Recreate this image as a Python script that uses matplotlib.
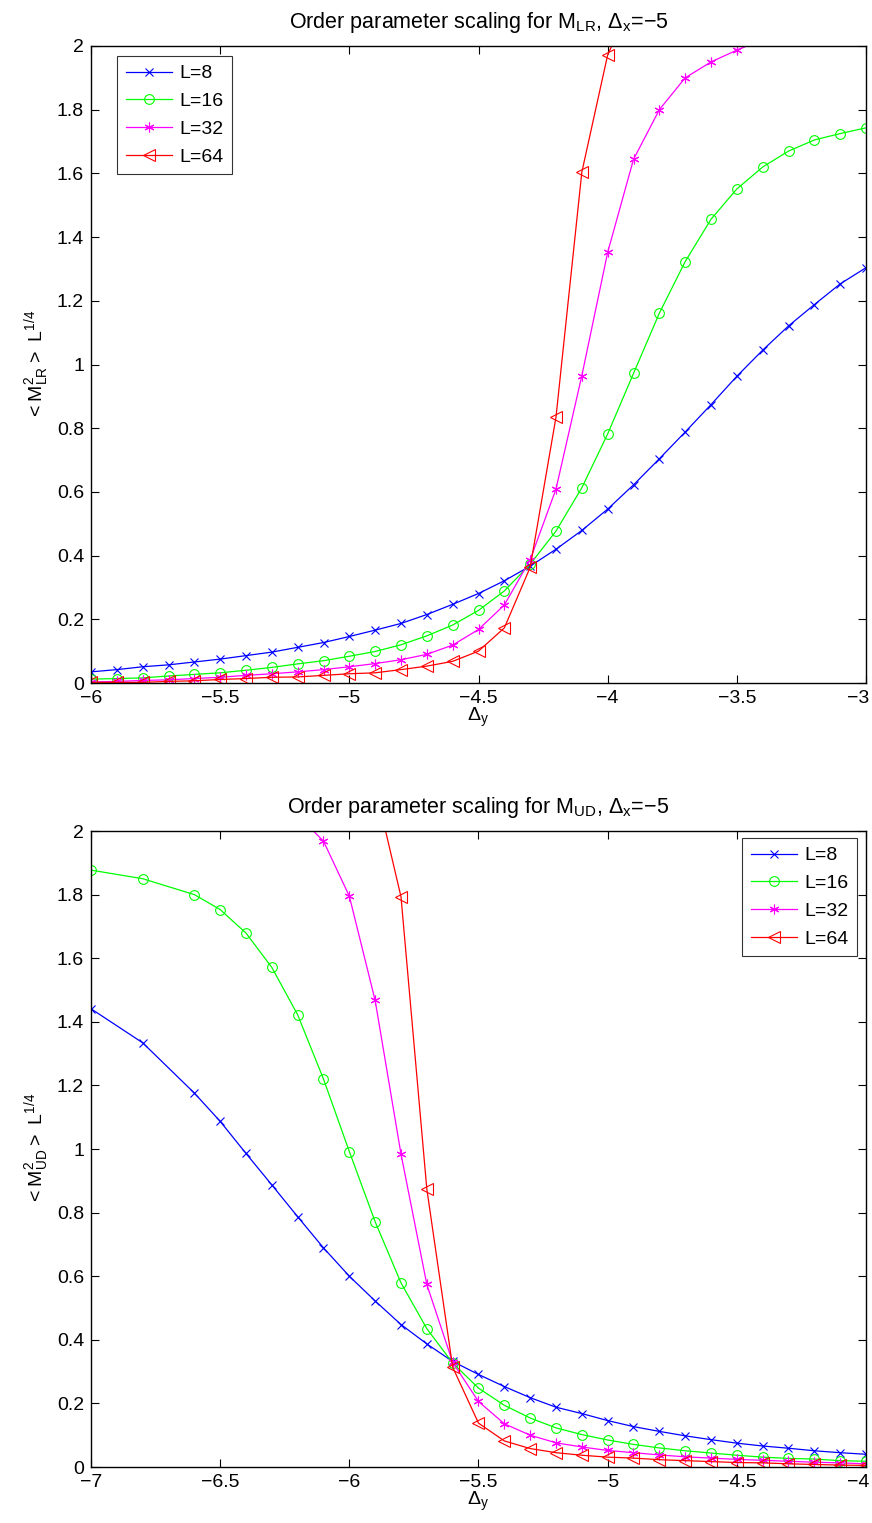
import numpy as np
import matplotlib
matplotlib.use("Agg")
import matplotlib.pyplot as plt
from matplotlib.transforms import ScaledTranslation

plt.rcParams['font.family'] = ['Liberation Sans', 'DejaVu Sans']
plt.rcParams['mathtext.default'] = 'regular'

# ---------------- top panel data (M_LR) ----------------
top_x = [round(-6.0 + 0.1 * i, 1) for i in range(31)]
top_L8 = [0.035, 0.042, 0.051, 0.057, 0.066, 0.075, 0.086, 0.097, 0.112, 0.127,
          0.146, 0.166, 0.187, 0.215, 0.247, 0.281, 0.321, 0.367, 0.420, 0.479,
          0.546, 0.622, 0.704, 0.788, 0.874, 0.963, 1.045, 1.121, 1.188, 1.253, 1.304]
top_L16 = [0.012, 0.014, 0.016, 0.022, 0.027, 0.032, 0.040, 0.049, 0.060, 0.070,
           0.084, 0.099, 0.120, 0.148, 0.182, 0.228, 0.289, 0.373, 0.477, 0.613,
           0.782, 0.972, 1.161, 1.323, 1.456, 1.551, 1.620, 1.670, 1.705, 1.725, 1.743]
top_x32 = top_x[:27]
top_L32 = [0.003, 0.005, 0.008, 0.010, 0.014, 0.018, 0.024, 0.029, 0.035, 0.042,
           0.051, 0.061, 0.073, 0.090, 0.119, 0.168, 0.245, 0.387, 0.609, 0.965,
           1.352, 1.644, 1.800, 1.900, 1.950, 1.987, 2.020]
top_x64 = top_x[:22]
top_L64 = [0.002, 0.002, 0.002, 0.005, 0.007, 0.011, 0.014, 0.018, 0.019, 0.024,
           0.029, 0.032, 0.042, 0.053, 0.068, 0.100, 0.173, 0.363, 0.835, 1.604,
           1.972, 2.150]

# ---------------- bottom panel data (M_UD) ----------------
bot_x = [-7.0, -6.8, -6.6] + [round(-6.5 + 0.1 * i, 1) for i in range(26)]
bot_L8 = [1.441, 1.334, 1.176, 1.087, 0.986, 0.887, 0.787, 0.689, 0.600, 0.522,
          0.448, 0.387, 0.332, 0.291, 0.253, 0.218, 0.188, 0.168, 0.146, 0.127,
          0.112, 0.098, 0.086, 0.075, 0.066, 0.059, 0.051, 0.045, 0.040]
bot_L16 = [1.877, 1.850, 1.800, 1.753, 1.679, 1.571, 1.422, 1.220, 0.992, 0.771,
           0.579, 0.435, 0.327, 0.248, 0.194, 0.154, 0.123, 0.102, 0.085, 0.071,
           0.060, 0.051, 0.044, 0.037, 0.031, 0.027, 0.025, 0.020, 0.018]
bot_x32 = bot_x[6:]
bot_L32 = [2.050, 1.968, 1.795, 1.467, 0.984, 0.574, 0.329, 0.206, 0.136, 0.100,
           0.076, 0.063, 0.052, 0.045, 0.038, 0.032, 0.028, 0.024, 0.021, 0.018,
           0.015, 0.013, 0.010]
bot_x64 = bot_x[9:]
bot_L64 = [2.140, 1.793, 0.874, 0.314, 0.138, 0.082, 0.058, 0.045, 0.037, 0.031,
           0.028, 0.023, 0.020, 0.017, 0.014, 0.013, 0.010, 0.008, 0.006, 0.005]

labels = ['L=8', 'L=16', 'L=32', 'L=64']
colors = ['#0000ff', '#00ff00', '#ff00ff', '#ff0000']
markers = ['x', 'o', (6, 2, 0), '<']
msizes = [6, 7, 7, 8]

FS = 14
W, H = 872, 1523
fig = plt.figure(figsize=(W / 100, H / 100), dpi=100)

def style_axes(ax, xlim, xticks, ylabel, title):
    ax.set_xlim(*xlim)
    ax.set_ylim(0, 2)
    ax.set_xticks(xticks)
    ax.set_xticklabels([('%g' % t).replace('-', '\u2212') for t in xticks])
    yt = [round(0.2 * i, 1) for i in range(11)]
    ax.set_yticks(yt)
    ax.set_yticklabels(['%g' % t for t in yt])
    ax.tick_params(direction='in', top=True, right=True, length=6, width=0.8,
                   labelsize=FS, pad=5)
    last = ax.get_xticklabels()[-1]
    last.set_horizontalalignment('right')
    last.set_transform(last.get_transform() + ScaledTranslation(0.03, 0, fig.dpi_scale_trans))
    for s in ax.spines.values():
        s.set_linewidth(1.0)
    ax.set_xlabel(r'$\Delta_y$', fontsize=FS, labelpad=-1)
    ax.set_ylabel(ylabel, fontsize=FS, labelpad=4)
    ax.set_title(title, fontsize=15.5, pad=13)

def draw(ax, xs, ys):
    for x, y, lab, c, m, ms in zip(xs, ys, labels, colors, markers, msizes):
        ax.plot(x, y, color=c, marker=m, markersize=ms, markerfacecolor='none',
                markeredgecolor=c, markeredgewidth=0.8, linewidth=0.9, label=lab)

def add_legend(ax, x0, y0, loc):
    leg = ax.legend(loc=loc, bbox_to_anchor=(x0, y0), fontsize=FS, frameon=True,
                    fancybox=False, edgecolor='black', handlelength=2.4,
                    borderaxespad=0.0, labelspacing=0.52, borderpad=0.45,
                    handletextpad=0.35)
    leg.get_frame().set_linewidth(0.8)

ax1 = fig.add_axes([91 / W, 1 - 683 / H, 775 / W, 637 / H])
draw(ax1, [top_x, top_x, top_x32, top_x64], [top_L8, top_L16, top_L32, top_L64])
style_axes(ax1, (-6, -3), [-6, -5.5, -5, -4.5, -4, -3.5, -3],
           r'$<M^2_{LR}>\ L^{1/4}$',
           r'Order parameter scaling for M$_{LR}$, $\Delta_x$=$-$5')
add_legend(ax1, 26 / 775, 1 - 10 / 637, 'upper left')

ax2 = fig.add_axes([91 / W, 1 - 1467 / H, 775 / W, 636 / H])
draw(ax2, [bot_x, bot_x, bot_x32, bot_x64], [bot_L8, bot_L16, bot_L32, bot_L64])
style_axes(ax2, (-7, -4), [-7, -6.5, -6, -5.5, -5, -4.5, -4],
           r'$<M^2_{UD}>\ L^{1/4}$',
           r'Order parameter scaling for M$_{UD}$, $\Delta_x$=$-$5')
add_legend(ax2, 1 - 9 / 775, 1 - 7 / 636, 'upper right')

fig.savefig('out.png', dpi=100)
